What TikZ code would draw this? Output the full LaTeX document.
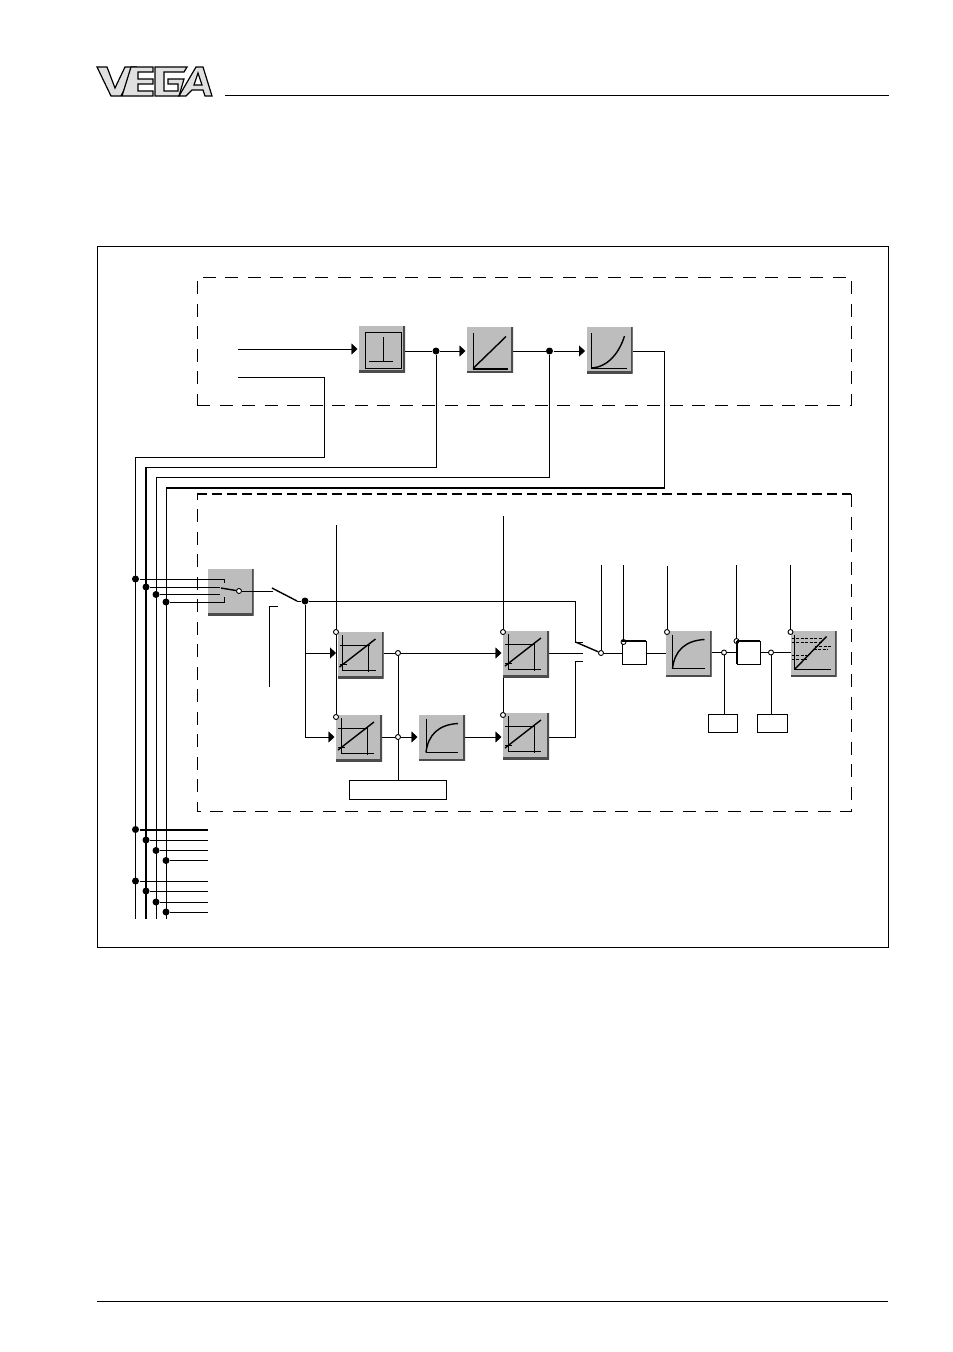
\documentclass[tikz,border=0pt]{standalone}
\usetikzlibrary{arrows.meta,backgrounds}

\begin{document}
\begin{tikzpicture}[
  x=1pt,y=-1pt,line width=1pt,
  fnblock/.style={minimum size=46pt,inner sep=0pt,outer sep=0pt,fill=black!26,
    path picture={\draw[black!70,line width=3.5pt] (path picture bounding box.north east)
      -- (path picture bounding box.south east) -- (path picture bounding box.south west);}},
  plainbox/.style={draw,fill=white,inner sep=0pt,outer sep=0pt},
  dot/.style={circle,fill=black,inner sep=0pt,minimum size=7pt},
  hollow/.style={circle,draw,fill=white,inner sep=0pt,minimum size=5pt,line width=0.9pt},
  arr/.style={-{Triangle[length=6pt,width=11pt]},shorten >=1.5pt},
  busline/.style={line width=2pt},
  slant/.style={line width=1.4pt},
  group/.style={dash pattern=on 13pt off 9.5pt,line width=1pt},
  grouptop/.style={dash pattern=on 10pt off 5pt,line width=1.6pt},
  logoletter/.style={draw,fill=black!12,line width=1.2pt},
  scalerglyph/.pic={
    \draw (5,3) -- (5,39) (5,38) -- (38,38) (2,13) -- (32,13) (31,13) -- (31,40) (2,32) -- (9,32);
    \draw[slant] (2,35) -- (38,7);
  },
  dampglyph/.pic={
    \draw (7,4) -- (7,38) -- (39,38);
    \draw[slant] (7,38) .. controls (9,20) and (20,10) .. (39,9);
  },
]

% Logo
\path[logoletter] (97,67) -- (107,67) -- (115,88) -- (125,67) -- (136,67) -- (121,96) -- (111,96) -- cycle;
\path[logoletter] (131,67) -- (153,67) -- (153,72) -- (138,72) -- (138,79) -- (153,79) -- (153,84)
  -- (138,84) -- (138,91) -- (153,91) -- (153,96) -- (122,96) -- cycle;
\path[logoletter] (155,67) -- (187,67) -- (184,72) -- (164,72) -- (164,91) -- (178,91) -- (178,84)
  -- (168,84) -- (168,79) -- (184,79) -- (179,96) -- (155,96) -- cycle;
\path[logoletter] (196,67) -- (203,67) -- (212,96) -- (205,96) -- (203,90) -- (192,90) -- (186,96)
  -- (179,96) -- cycle (198,73) -- (194,85) -- (202,85) -- cycle;

% Page lines and frame
\coordinate (headL) at (225,95);
\coordinate (headR) at (889,95);
\coordinate (footL) at (97,1301);
\coordinate (footR) at (888,1301);
\draw (headL) -- (headR);
\draw (footL) -- (footR);
\node[draw,outer sep=0pt,inner sep=0pt,minimum width=791pt,minimum height=701pt] (frame) at (492.5,596.5) {};

% Dashed groups
\node[draw,group,inner sep=0pt,minimum width=654pt,minimum height=128pt] (groupT) at (524,341) {};
\node[outer sep=0pt,inner sep=0pt,minimum width=654pt,minimum height=317pt] (groupB) at (524,652.5) {};
\draw[group] (groupB.north east) -- (groupB.south east) -- (groupB.south west) -- (groupB.north west);
\draw[grouptop] (groupB.north west) -- (groupB.north east);

% Upper blocks
\node[fnblock] (P1) at (382,349) {};
\node[fnblock] (P2) at (490,349.5) {};
\node[fnblock] (P3) at (609.5,350) {};

% Switch block
\node[fnblock] (SW) at (230.5,592) {};

% Lower blocks
\node[fnblock] (A1) at (360.5,655) {};
\node[fnblock] (A2) at (359,738) {};
\node[fnblock] (C1) at (442,737.5) {};
\node[fnblock] (B1) at (526,654) {};
\node[fnblock] (B2) at (526,736) {};
\node[fnblock] (E1) at (688.5,653.5) {};
\node[fnblock] (G1) at (813.5,653.5) {};

% White boxes
\node[plainbox,minimum width=24pt,minimum height=23pt] (D1) at (634,652.5) {};
\node[plainbox,minimum width=23pt,minimum height=23pt] (F1) at (748.5,652.5) {};
\node[plainbox,minimum width=29pt,minimum height=18pt] (R1) at (722.5,723) {};
\node[plainbox,minimum width=30pt,minimum height=18pt] (R2) at (772,723) {};
\node[plainbox,minimum width=97pt,minimum height=19pt] (R3) at (397.5,789.5) {};

% Junctions
\node[dot] (j1) at (436,351) {};
\node[dot] (j2) at (549.5,351) {};
\node[dot] (s1) at (135.5,579) {};
\node[dot] (s2) at (146,587) {};
\node[dot] (s3) at (156,594.5) {};
\node[dot] (s4) at (166,602) {};
\node[dot] (sw) at (305,601) {};
\node[dot] (b1) at (135.5,829.5) {};
\node[dot] (b2) at (146,840) {};
\node[dot] (b3) at (156,850.5) {};
\node[dot] (b4) at (166,860.5) {};
\node[dot] (b5) at (135.5,881) {};
\node[dot] (b6) at (146,891) {};
\node[dot] (b7) at (156,902) {};
\node[dot] (b8) at (166,912) {};
\node[hollow] (hA1) at (336,632) {};
\node[hollow] (hA2) at (336,717) {};
\node[hollow] (hB1) at (503,632) {};
\node[hollow] (hB2) at (503,715) {};
\node[hollow] (o1) at (398,653) {};
\node[hollow] (o2) at (398,737) {};
\node[hollow] (m1) at (601,653) {};
\node[hollow] (hD) at (623.5,642) {};
\node[hollow] (hE) at (667,632) {};
\node[hollow] (o3) at (724,652.5) {};
\node[hollow] (hF) at (736.5,641) {};
\node[hollow] (o4) at (771,652.5) {};
\node[hollow] (hG) at (790.5,632) {};

% Free ends
\coordinate (in1) at (238,349);
\coordinate (in2) at (238,377);
\coordinate (c1) at (324,457);
\coordinate (c2) at (436,467);
\coordinate (c3) at (549.5,477);
\coordinate (c4) at (664.5,488);
\coordinate (bus1) at (135.5,919);
\coordinate (bus2) at (146,919);
\coordinate (bus3) at (156,919);
\coordinate (bus4) at (166,919);
\coordinate (topA) at (336,525);
\coordinate (topB) at (503,516);
\coordinate (topM) at (601,565);
\coordinate (topD) at (623.5,565);
\coordinate (topE) at (667,566);
\coordinate (topF) at (736.5,565);
\coordinate (topG) at (790.5,565);
\coordinate (sa) at (273,591);
\coordinate (sb) at (272,588);
\coordinate (sc) at (297,601);
\coordinate (ma) at (575.5,642);
\coordinate (mb) at (583,642);
\coordinate (mc) at (583,653);
\coordinate (md) at (583,661);
\coordinate (me) at (575.5,661);
\coordinate (la) at (278,606.5);
\coordinate (lb) at (269,606.5);
\coordinate (lc) at (269,687);

\begin{scope}[on background layer]
  % Upper chain
  \draw[arr] (in1) -- (P1.west |- in1);
  \draw (P1.east |- j1) -- (j1);
  \draw[arr] (j1) -- (P2.west |- j1);
  \draw (P2.east |- j2) -- (j2);
  \draw[arr] (j2) -- (P3.west |- j2);

  % Feedback lines to the bus
  \draw (in2) -| (c1) -- (c1 -| bus1) -- (bus1);
  \draw (j1) -- (c2) -- (c2 -| bus2);
  \draw[busline] (c2 -| bus2) -- (bus2);
  \draw (j2) -- (c3) -- (c3 -| bus3) -- (bus3);
  \draw (P3.east |- j2) -| (c4);
  \draw[busline] (c4) -- (c4 -| bus4);
  \draw (c4 -| bus4) -- (bus4);

  % Bracket
  \draw (la) -- (lb) -- (lc);

  % Signal paths
  \draw[slant] (sb) -- (sc);
  \draw (sc) -- (sw);
  \draw (sw) -| (ma) -- (mb);
  \draw[slant] (ma) -- (m1);
  \draw (sw) -- (sw |- A2);
  \draw[arr] (sw |- o1) -- (A1.west |- o1);
  \draw[arr] (sw |- o2) -- (A2.west |- o2);
  \draw (A1.east |- o1) -- (o1);
  \draw[arr] (o1) -- (B1.west |- o1);
  \draw (A2.east |- o2) -- (o2);
  \draw[arr] (o2) -- (C1.west |- o2);
  \draw[arr] (C1.east |- o2) -- (B2.west |- o2);
  \draw (o1) -- (o2) -- (R3.north -| o2);
  \draw (B1.east |- o1) -- (mc);
  \draw (B2.east |- o2) -| (me) -- (md);
  \draw (m1) -- (D1.west |- m1);
  \draw (D1.east |- m1) -- (E1.west |- m1);
  \draw (E1.east |- o3) -- (o3) -- (F1.west |- o3);
  \draw (F1.east |- o3) -- (o4) -- (G1.west |- o4);
  \draw (o3) -- (o3 |- R1.north);
  \draw (o4) -- (o4 |- R2.north);

  % Parameter lines
  \draw (topA) -- (hA1) -- (hA2);
  \draw (topB) -- (hB1);
  \draw (B1.south west) -- (hB2);
  \draw (topM) -- (m1);
  \draw (topD) -- (hD);
  \draw (topE) -- (hE);
  \draw (topF) -- (hF);
  \draw (topG) -- (hG);

  % Bus outputs
  \coordinate (eb1) at (208,829.5);
  \draw[busline] (b1) -- (eb1);
  \foreach \j/\yy in {b2/840,b3/850.5,b4/860.5,b5/881,b6/891,b7/902,b8/912} {
    \coordinate (e\j) at (208,\yy);
    \draw (\j) -- (e\j);
  }
\end{scope}

% Switch contacts
\coordinate (k1) at (224.5,579);
\coordinate (k1b) at (224.5,583);
\coordinate (k2) at (220,587);
\coordinate (k3) at (220,594.5);
\coordinate (k4) at (224.5,602);
\coordinate (k4b) at (224.5,597);
\coordinate (rk) at (221,588);
\node[hollow] (h0) at (239,591) {};
\draw (s1) -- (k1) -- (k1b);
\draw (s2) -- (k2);
\draw (s3) -- (k3);
\draw (s4) -- (k4) -- (k4b);
\draw[slant] (rk) -- (h0);
\draw (h0) -- (sa);

% Thick box edges
\draw[line width=2pt] (D1.north west) -- (D1.north east);
\draw[line width=2pt] (F1.north west) -- (F1.north east);
\draw[line width=2pt] (F1.north west) -- (F1.south west);

% Block symbols
\begin{scope}[shift={(P1.north west)}]
  \draw (6,6) rectangle (42,42);
  \draw (10,35.5) -- (34,35.5) (24,11) -- (24,35.5);
\end{scope}
\begin{scope}[shift={(P2.north west)}]
  \draw (6,6) -- (6,42);
  \draw[line width=2pt] (6,42) -- (41,42);
  \draw[slant] (6,42) -- (39,10);
\end{scope}
\begin{scope}[shift={(P3.north west)}]
  \draw (5,6) -- (5,41) -- (40,41);
  \draw[slant] (5,41) .. controls (22,40) and (33,25) .. (38,9);
\end{scope}
\pic at (A1.north west) {scalerglyph};
\pic at (A2.north west) {scalerglyph};
\pic at (B1.north west) {scalerglyph};
\pic at (B2.north west) {scalerglyph};
\pic at (E1.north west) {dampglyph};
\pic at (C1.north west) {dampglyph};
\begin{scope}[shift={(G1.north west)}]
  \draw (4,4) -- (4,39) -- (40,39);
  \draw[slant] (4,39) -- (36,6);
  \draw[dash pattern=on 3pt off 1.5pt,line width=1pt] (1,8) -- (32,8) (1,12) -- (31,12) (24,16) -- (40,16) (23,19) -- (37,19) (1,29) -- (16,29) (1,25) -- (16,25);
\end{scope}

\useasboundingbox (0,0) rectangle (953,1352);
\end{tikzpicture}
\end{document}
